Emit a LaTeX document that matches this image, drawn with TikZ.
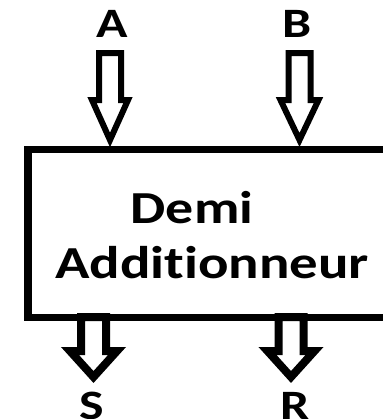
\documentclass[tikz,border=0pt]{standalone}
\usepackage{fontspec}
\setmainfont[Ligatures={NoCommon,NoRare,NoContextual}]{Carlito}
% hollow block arrow pointing down:
% #1 style, #2 x, #3 shaft top, #4 head base, #5 tip, #6 half shaft, #7 half head
\newcommand\blockdown[7]{%
  \draw[#1] (#2-#6,#3) -- (#2-#6,#4) -- (#2-#7,#4) -- (#2,#5)
    -- (#2+#7,#4) -- (#2+#6,#4) -- (#2+#6,#3) -- cycle;}
\begin{document}
\begin{tikzpicture}[x=1bp,y=-1bp,
  pin/.style={font=\bfseries\fontsize{42}{42}\selectfont, inner sep=0pt, anchor=base},
  title/.style={font=\bfseries\fontsize{46}{46}\selectfont, inner sep=0pt, anchor=base},
  inarrow/.style={draw=black, fill=white, line width=6bp, line join=miter},
  outarrow/.style={draw=black, fill=white, line width=8bp, line join=miter},
  blockline/.style={draw=black, line width=7bp, line join=miter}]
\clip (0,0) rectangle (383,419);
\fill[white] (0,0) rectangle (383,419);

% input and output arrows
\blockdown{inarrow}{110}{53}{100}{140}{11}{18}
\blockdown{inarrow}{299.5}{53}{100}{140}{11}{19}
\blockdown{outarrow}{93.5}{317}{351}{377}{12.5}{23.5}
\blockdown{outarrow}{291}{317}{351}{377}{12.5}{23.5}

% the adder block, running off the right edge
\draw[blockline] (400,149) -| (28,317) -- (400,317);

% signal names
\node[pin] (a) at (112,37) {\scalebox{1.24}[1]{A}};
\node[pin] (b) at (297,37) {\scalebox{1.24}[1]{B}};
\node[pin] (s) at (92,419) {\scalebox{1.24}[1]{S}};
\node[pin] (r) at (295,419) {\scalebox{1.24}[1]{R}};

% block title
\node[title] (t1) at (192,223) {\scalebox{1.22}[1]{Demi}};
\node[title] (t2) at (212,278) {\scalebox{1.24}[1]{Additionneur}};
\end{tikzpicture}
\end{document}
